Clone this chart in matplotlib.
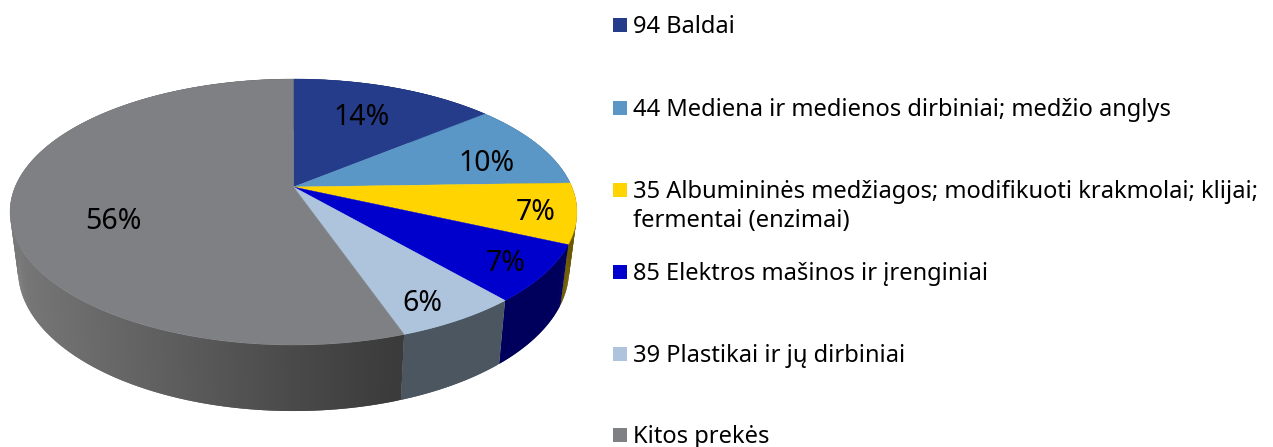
import numpy as np
import matplotlib
matplotlib.use("Agg")
import matplotlib.pyplot as plt
from matplotlib.collections import PolyCollection
from matplotlib.colors import to_rgb
from matplotlib.patches import Polygon, Rectangle

# ---- data
legend_labels = ["94 Baldai",
                 "44 Mediena ir medienos dirbiniai; medžio anglys",
                 "35 Albumininės medžiagos; modifikuoti krakmolai; klijai;\nfermentai (enzimai)",
                 "85 Elektros mašinos ir įrenginiai",
                 "39 Plastikai ir jų dirbiniai",
                 "Kitos prekės"]
shares = [14.0, 10.5, 7.3, 6.9, 6.0, 55.3]
share_labels = ["14%", "10%", "7%", "7%", "6%", "56%"]

# ---- style
top_colors = ["#253c8b", "#5b97c6", "#ffd400", "#0000cd", "#aec4dd", "#7f8083"]
side_colors = ["#16245a", "#3a6080", "#6b5800", "#00005c", "#4c5660", None]
FONT = "Noto Sans"
LEGEND_FS = 17.05
LABEL_FS = 20.5

# projective mapping of the pie disc into the picture
CX, CY = 293.5, 187.0
K, A, C = 0.188, 128.3, 278.4


def top_xy(t_deg, r=1.0):
    t = np.radians(t_deg)
    u, v = r * np.sin(t), r * np.cos(t)
    w = 1 + K * v
    return CX + C * u / w, CY - A * v / w


def bottom_xy(t_deg):
    x, y = top_xy(t_deg)
    return CX + 0.972 * (x - CX), y + 60 + (y - 243) * 0.059


fig = plt.figure(figsize=(12.73, 4.47), dpi=100)
ax = fig.add_axes([0, 0, 1, 1])
ax.set_xlim(0, 1273)
ax.set_ylim(447, 0)
ax.axis("off")

edges = 3.6 * np.concatenate([[0], np.cumsum(shares)])
edges[-1] = 360.0

# side walls, drawn as overlapping strips so that the grey wall can shade along x
grey_x = [10, 120, 293, 400]
grey_v = [0.47, 0.40, 0.29, 0.23]
for i in range(len(shares)):
    ts = np.linspace(edges[i], edges[i + 1], max(3, int(edges[i + 1] - edges[i]) * 2 + 1))
    polys, cols = [], []
    for j in range(len(ts) - 1):
        a = ts[j]
        b = ts[min(j + 2, len(ts) - 1)]
        xa, ya = top_xy(a)
        xb, yb = top_xy(b)
        xc, yc = bottom_xy(b)
        xd, yd = bottom_xy(a)
        polys.append([(xa, ya), (xb, yb), (xc, yc), (xd, yd)])
        if side_colors[i] is None:
            g = np.interp(xa, grey_x, grey_v)
            cols.append((g, g, g))
        else:
            cols.append(to_rgb(side_colors[i]))
    ax.add_collection(PolyCollection(polys, facecolors=cols, edgecolors="none",
                                     linewidths=0, zorder=1))

# top faces
for i in range(len(shares)):
    ts = np.linspace(edges[i], edges[i + 1], 200)
    xs, ys = top_xy(ts)
    pts = np.column_stack([np.r_[CX, xs], np.r_[CY, ys]])
    ax.add_patch(Polygon(pts, closed=True, facecolor=top_colors[i],
                         edgecolor=top_colors[i], linewidth=0.3, zorder=2))

# share labels: placed around the mid-angle of each slice
label_r = [0.684, 0.75, 0.858, 0.865, 0.863, 0.662]
label_dt = [-1.5, 4.5, 0.5, 0.5, 2.5, -11.8]
for i, txt in enumerate(share_labels):
    mid = (edges[i] + edges[i + 1]) / 2 + label_dt[i]
    x, y = top_xy(mid, label_r[i])
    ax.text(x, y + 2, txt, ha="center", va="center", fontsize=LABEL_FS,
            family=FONT, color="black", zorder=3)

# legend
swatch_y = [25, 108, 190, 272, 354, 435]
for i, (lab, y) in enumerate(zip(legend_labels, swatch_y)):
    ax.add_patch(Rectangle((613, y - 7), 14, 14, facecolor=top_colors[i],
                           edgecolor="none", zorder=3))
    ax.text(633, y - 10, lab, ha="left", va="top", fontsize=LEGEND_FS, family=FONT,
            color="black", linespacing=1.295, zorder=3)

fig.savefig("out.png", dpi=100)
